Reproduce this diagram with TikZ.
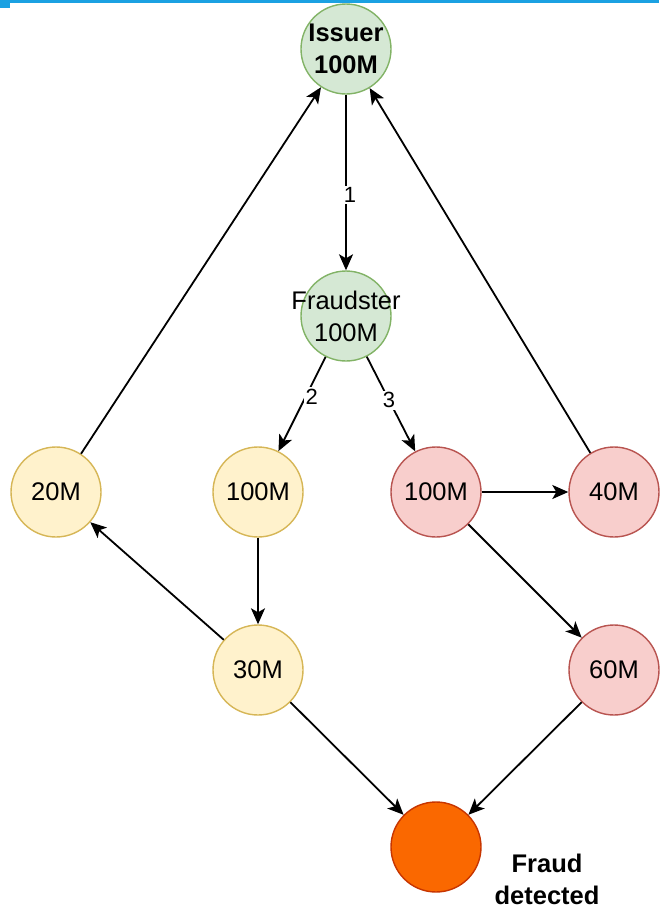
\documentclass[tikz,border=0pt]{standalone}
\usepackage{fontspec}
\setmainfont{Liberation Sans}
\usetikzlibrary{arrows.meta}
\definecolor{gfill}{HTML}{D5E8D4}\definecolor{gdraw}{HTML}{82B366}
\definecolor{yfill}{HTML}{FFF2CC}\definecolor{ydraw}{HTML}{D6B656}
\definecolor{rfill}{HTML}{F8CECC}\definecolor{rdraw}{HTML}{B85450}
\definecolor{ofill}{HTML}{FA6800}\definecolor{odraw}{HTML}{C73500}
\definecolor{topbar}{HTML}{1BA1E2}
\newcommand{\zw}[1]{\makebox[0pt][c]{#1}}
\tikzset{
  circ/.style={circle, minimum size=90pt, inner sep=0pt, line width=1.4pt, align=center,
    font=\fontsize{25.5}{32}\selectfont},
  gnode/.style={circ, fill=gfill, draw=gdraw},
  ynode/.style={circ, fill=yfill, draw=ydraw},
  rnode/.style={circ, fill=rfill, draw=rdraw},
  onode/.style={circ, fill=ofill, draw=odraw},
  conn/.style={line width=1.8pt, -{Stealth[length=16pt, width=14pt, inset=4pt]}},
  elabel/.style={fill=white, inner sep=1.5pt, font=\fontsize{22}{24}\selectfont},
}
\begin{document}
\begin{tikzpicture}[x=1pt, y=-1pt]
\useasboundingbox (0,0) rectangle (659,908);
\node[gnode] (issuer) at (346,49) {\zw{\bfseries Issuer}\\\zw{\bfseries 100M}};
\node[gnode] (fraudster) at (346,316) {\zw{Fraudster}\\\zw{100M}};
\node[ynode] (m20) at (56,492) {20M};
\node[ynode] (y100) at (258,492) {100M};
\node[rnode] (r100) at (436,492) {100M};
\node[rnode] (m40) at (614,492) {40M};
\node[ynode] (m30) at (258,670) {30M};
\node[rnode] (m60) at (614,670) {60M};
\node[onode] (fraud) at (436,847) {};
\node[align=center, inner sep=0pt, font=\bfseries\fontsize{25.5}{32}\selectfont] (fraudtxt) at (547,879) {Fraud\\detected};

\draw[conn] (issuer) -- node[elabel, pos=0.57, xshift=4pt] {1} (fraudster);
\draw[conn] (fraudster) -- node[elabel, pos=0.42, xshift=6pt] {2} (y100);
\draw[conn] (fraudster) -- node[elabel, pos=0.46] {3} (r100);
\draw[conn] (r100) -- (m40);
\draw[conn] (r100) -- (m60);
\draw[conn] (y100) -- (m30);
\draw[conn] (m30) -- (m20);
\draw[conn] (m20) -- (issuer);
\draw[conn] (m40) -- (issuer);
\draw[conn] (m30) -- (fraud);
\draw[conn] (m60) -- (fraud);

\fill[topbar] (0,0) rectangle (659,3);
\fill[topbar] (0,0) rectangle (10,8);
\end{tikzpicture}
\end{document}
